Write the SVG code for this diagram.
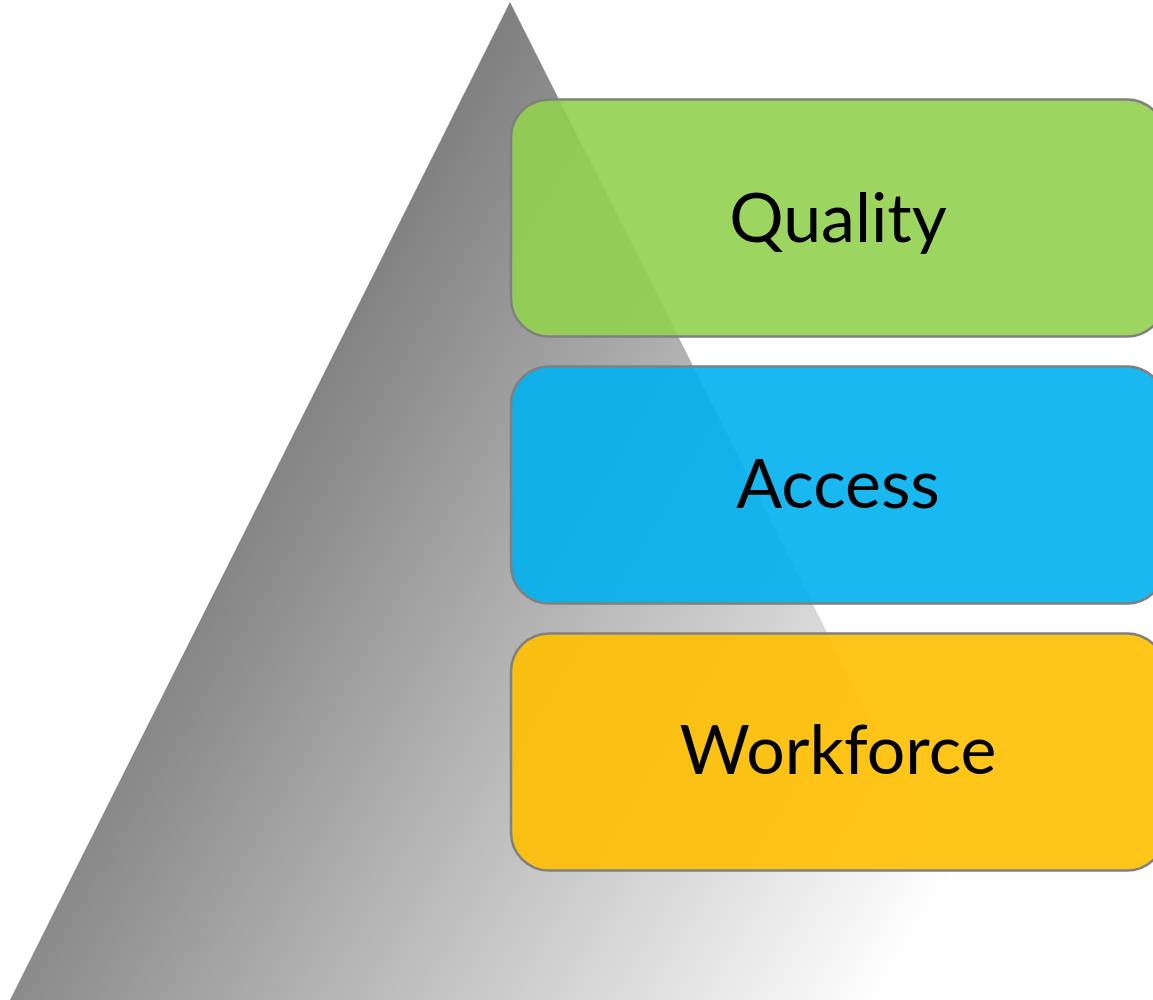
<svg xmlns="http://www.w3.org/2000/svg" width="1153" height="1000" viewBox="0 0 1153 1000">
<defs>
<linearGradient id="tri" gradientUnits="userSpaceOnUse" x1="510" y1="2" x2="1223" y2="423">
<stop offset="0" stop-color="#7f7f7f"/>
<stop offset="1" stop-color="#ffffff"/>
</linearGradient>
</defs>
<style>
.box{stroke:#808080;stroke-width:2.5;fill-opacity:0.9}
.lbl{font-family:Lato,"Open Sans",sans-serif;font-size:68px;fill:#000;text-anchor:middle}
</style>
<rect width="1153" height="1000" fill="#ffffff"/>
<g id="pyramid">
<polygon points="510,2 1012,1000 10,1000" fill="url(#tri)"/>
</g>
<g id="connectors"></g>
<g id="quality">
<rect class="box" x="511" y="99.5" width="654" height="237" rx="38" fill="#92D050"/>
<text class="lbl" x="838" y="242">Quality</text>
</g>
<g id="access">
<rect class="box" x="511" y="366.5" width="654" height="237" rx="38" fill="#00B0F0"/>
<text class="lbl" x="838" y="508">Access</text>
</g>
<g id="workforce">
<rect class="box" x="511" y="633.5" width="654" height="237" rx="38" fill="#FFC000"/>
<text class="lbl" x="838" y="774">Workforce</text>
</g>
</svg>
